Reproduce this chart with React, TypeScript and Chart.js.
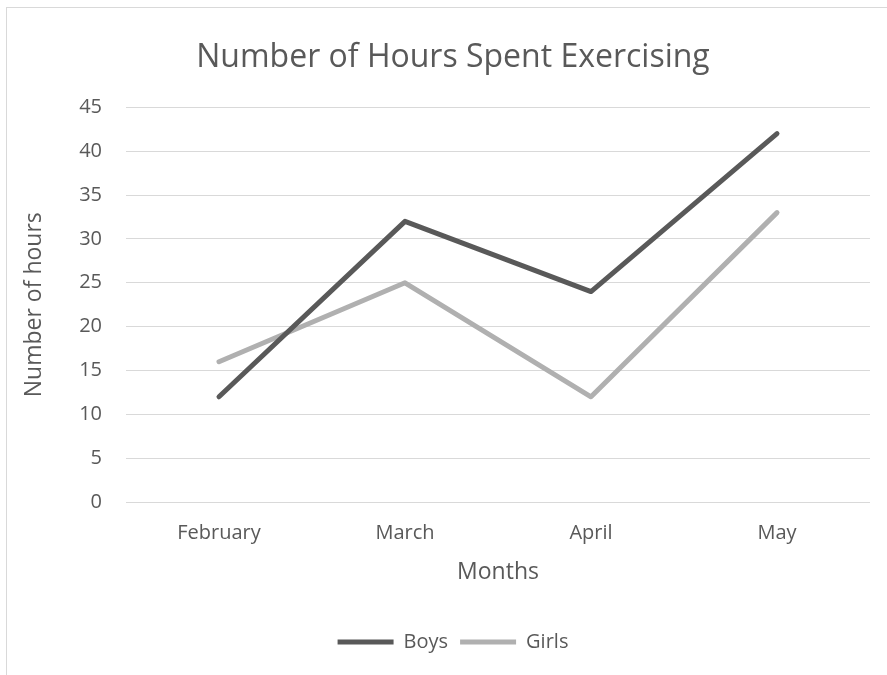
import React, { useEffect, useRef } from "react";
import { Chart, registerables } from "chart.js";

Chart.register(...registerables);

const months = ["February", "March", "April", "May"];
const boys = [12, 32, 24, 42];
const girls = [16, 25, 12, 33];
const chartTitle = "Number of Hours Spent Exercising";
const xTitle = "Months";
const yTitle = "Number of hours";

const FONT = "'Open Sans', sans-serif";
const TEXT = "#595959";

export default function App() {
  const ref = useRef<HTMLCanvasElement | null>(null);
  useEffect(() => {
    if (!ref.current) return;
    const chart = new Chart(ref.current, {
      type: "line",
      data: {
        labels: months,
        datasets: [
          {
            label: "Boys",
            data: boys,
            borderColor: "#595959",
            backgroundColor: "#595959",
            borderWidth: 5,
            pointRadius: 0,
            borderCapStyle: "round",
            borderJoinStyle: "round",
            tension: 0,
          },
          {
            label: "Girls",
            data: girls,
            borderColor: "#b0b0b0",
            backgroundColor: "#b0b0b0",
            borderWidth: 5,
            pointRadius: 0,
            borderCapStyle: "round",
            borderJoinStyle: "round",
            tension: 0,
          },
        ],
      },
      options: {
        responsive: false,
        animation: false,
        layout: { padding: { left: 36, right: 17, top: 0, bottom: 13 } },
        plugins: {
          tooltip: { enabled: false },
          title: {
            display: true,
            text: chartTitle,
            color: TEXT,
            font: { family: FONT, size: 32, weight: "normal" },
            padding: { top: 39, bottom: 30 },
          },
          legend: {
            position: "bottom",
            labels: {
              usePointStyle: true,
              pointStyle: "line",
              pointStyleWidth: 56,
              boxHeight: 5,
              color: TEXT,
              font: { family: FONT, size: 20 },
              padding: 12,
            },
          },
        },
        scales: {
          x: {
            offset: true,
            grid: { display: false, drawTicks: false },
            border: { display: false },
            ticks: { color: TEXT, font: { family: FONT, size: 20 }, padding: 19 },
            title: {
              display: true,
              text: xTitle,
              color: TEXT,
              font: { family: FONT, size: 23 },
              padding: { top: 0, bottom: 34 },
            },
            afterFit: (s: any) => {
              s.height = 118;
            },
          },
          y: {
            min: 0,
            max: 45,
            ticks: { stepSize: 5, color: TEXT, font: { family: FONT, size: 20 }, padding: 24 },
            grid: { color: "#d9d9d9", lineWidth: 1, drawTicks: false },
            border: { display: false },
            title: {
              display: true,
              text: yTitle,
              color: TEXT,
              font: { family: FONT, size: 23 },
              padding: { top: -15, bottom: 0 },
            },
            afterFit: (s: any) => {
              s.width = 90;
            },
          },
        },
      },
    });
    return () => chart.destroy();
  }, []);
  return (
    <div style={{ position: "absolute", left: 0, top: 0, width: 887, height: 675, overflow: "hidden", background: "#fff" }}>
      <div
        style={{
          position: "absolute",
          left: 6,
          top: 7,
          width: 1000,
          height: 1000,
          borderLeft: "1px solid #d9d9d9",
          borderTop: "1px solid #d9d9d9",
        }}
      />
      <canvas ref={ref} width={887} height={675} style={{ position: "absolute", left: 0, top: 0 }} />
    </div>
  );
}
